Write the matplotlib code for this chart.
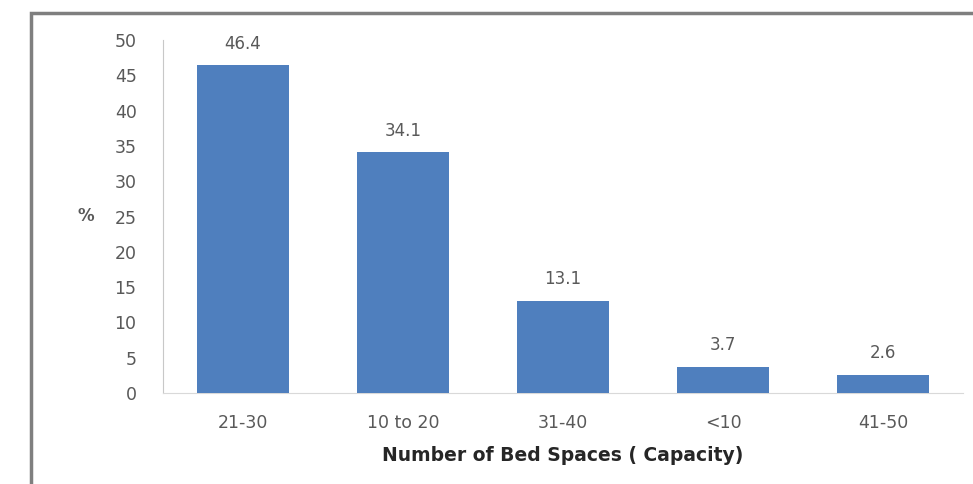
import matplotlib.pyplot as plt
import matplotlib.patches as patches

categories = ["21-30", "10 to 20", "31-40", "<10", "41-50"]
percent = [46.4, 34.1, 13.1, 3.7, 2.6]
y_ticks = [0, 5, 10, 15, 20, 25, 30, 35, 40, 45, 50]

plt.rcParams['font.family'] = ['DejaVu Sans']

fig = plt.figure(figsize=(9.73, 4.84), dpi=100)
ax = fig.add_axes([163 / 973, 1 - 393 / 484, 800 / 973, 353 / 484])

bar_color = '#4F7FBE'
text_gray = '#595959'

x = range(len(categories))
bars = ax.bar(x, percent, width=0.58, color=bar_color, zorder=3)

for b, v in zip(bars, percent):
    ax.annotate(f"{v}", (b.get_x() + b.get_width() / 2, v),
                xytext=(0, 9), textcoords='offset points',
                ha='center', va='bottom', fontsize=12, color=text_gray)

ax.set_xlim(-0.5, len(categories) - 0.5)
ax.set_ylim(0, 50)
ax.set_yticks(y_ticks)
ax.set_xticks(list(x))
ax.set_xticklabels(categories)
ax.tick_params(axis='both', length=0, labelsize=12.5, labelcolor=text_gray)
ax.tick_params(axis='y', pad=19)
ax.tick_params(axis='x', pad=15)

for side in ['top', 'right']:
    ax.spines[side].set_visible(False)
ax.spines['left'].set_color('#C8C8C8')
ax.spines['bottom'].set_color('#D9D9D9')

ax.set_xlabel("Number of Bed Spaces ( Capacity)", fontsize=13.5, fontweight='bold',
              color='#262626', labelpad=10)
fig.text(86 / 973, 1 - 216 / 484, "%", fontsize=12, fontweight='bold',
         color=text_gray, ha='center', va='center')

# outer chart frame, running off the right and bottom edges
frame = patches.Rectangle((31 / 973, -0.05), 1.0, 1 - 13 / 484 + 0.05,
                          transform=fig.transFigure, fill=False,
                          edgecolor='#7F7F7F', linewidth=2.5)
fig.patches.append(frame)

fig.savefig('out.png', dpi=100)
